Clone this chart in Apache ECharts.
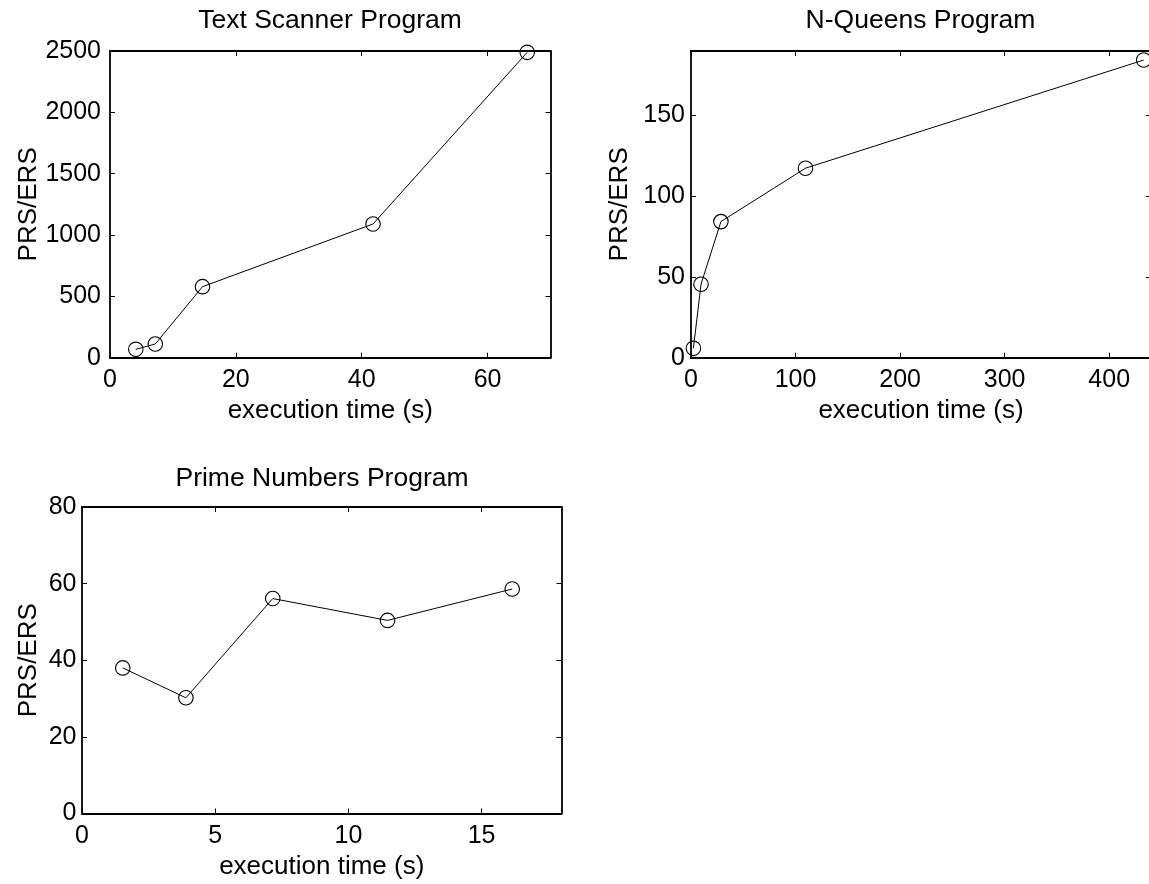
<!DOCTYPE html>
<html>
<head>
<meta charset="utf-8">
<title>PRS/ERS vs execution time</title>
<script src="https://cdn.jsdelivr.net/npm/echarts@6/dist/echarts.min.js"></script>
<style>
  html, body { margin: 0; padding: 0; background: #fff; }
  #chart { width: 1149px; height: 884px; }
</style>
</head>
<body>
<div id="chart"></div>
<script>
// data
var textTime = [4.1, 7.2, 14.7, 41.8, 66.3]
var textRatio = [68, 112, 579, 1090, 2489]
var queensTime = [2.3, 9.6, 28.6, 109.5, 433]
var queensRatio = [5.8, 45.5, 84.3, 117.4, 184.4]
var primeTime = [1.53, 3.9, 7.16, 11.47, 16.15]
var primeRatio = [38.0, 30.2, 56.1, 50.4, 58.6]

var titles = ['Text Scanner Program', 'N-Queens Program', 'Prime Numbers Program']
var xName = 'execution time (s)'
var yName = 'PRS/ERS'

var font = "'Liberation Sans', Arial, Helvetica, sans-serif"

function pairs(xs, ys) {
  return xs.map(function (x, i) { return [x, ys[i]] })
}

// axis settings for the 3 panels
var panels = [
  { grid: { left: 110, top: 51, width: 440.5, height: 306.7 }, xMax: 70, xStep: 20, yMax: 2500, yStep: 500, yTop: true, yGap: 68, yMargin: 9, title: [330, 7], data: pairs(textTime, textRatio) },
  { grid: { left: 691, top: 51, width: 460, height: 306.7 }, xMax: 440, xStep: 100, yMax: 190, yStep: 50, yTop: false, yGap: 58, yMargin: 6, title: [920.5, 7], data: pairs(queensTime, queensRatio) },
  { grid: { left: 82, top: 507, width: 479.5, height: 306.5 }, xMax: 18, xStep: 5, yMax: 80, yStep: 20, yTop: true, yGap: 40, yMargin: 5.5, title: [322, 465.5], data: pairs(primeTime, primeRatio) }
]

var option = {
  animation: false,
  backgroundColor: '#fff',
  textStyle: { fontFamily: font },
  title: [],
  grid: [],
  xAxis: [],
  yAxis: [],
  series: []
}

panels.forEach(function (p, i) {
  option.title.push({
    text: titles[i],
    left: p.title[0],
    top: p.title[1],
    textAlign: 'center',
    padding: 0,
    textStyle: { fontFamily: font, fontSize: 26.5, fontWeight: 'normal', color: '#000' }
  })
  option.grid.push(Object.assign({ containLabel: false, outerBoundsMode: 'none' }, p.grid))

  var line = { show: true, onZero: false, lineStyle: { color: '#000', width: 1.8 } }
  var tick = { show: true, inside: true, length: 5, lineStyle: { color: '#000', width: 1 } }
  var plain = function (v) { return String(v) }

  // bottom / left axes with labels
  option.xAxis.push({
    type: 'value', gridIndex: i, min: 0, max: p.xMax, interval: p.xStep,
    name: xName, nameLocation: 'middle', nameGap: 40,
    nameTextStyle: { fontFamily: font, fontSize: 26, color: '#000' },
    axisLine: line, axisTick: tick, splitLine: { show: false },
    axisLabel: { fontFamily: font, fontSize: 25, color: '#000', margin: 10, showMaxLabel: false, formatter: plain }
  })
  option.yAxis.push({
    type: 'value', gridIndex: i, min: 0, max: p.yMax, interval: p.yStep,
    name: yName, nameLocation: 'middle', nameGap: p.yGap, nameRotate: 90,
    nameTextStyle: { fontFamily: font, fontSize: 26, color: '#000' },
    axisLine: line, axisTick: tick, splitLine: { show: false },
    axisLabel: { fontFamily: font, fontSize: 25, color: '#000', margin: p.yMargin, showMaxLabel: p.yTop, formatter: plain }
  })
  // top / right axes only for the box and the inner ticks
  option.xAxis.push({
    type: 'value', gridIndex: i, position: 'top', min: 0, max: p.xMax, interval: p.xStep,
    axisLine: line, axisTick: tick, axisLabel: { show: false }, splitLine: { show: false }
  })
  option.yAxis.push({
    type: 'value', gridIndex: i, position: 'right', min: 0, max: p.yMax, interval: p.yStep,
    axisLine: line, axisTick: tick, axisLabel: { show: false }, splitLine: { show: false }
  })

  option.series.push({
    type: 'line',
    xAxisIndex: i * 2,
    yAxisIndex: i * 2,
    data: p.data,
    symbol: 'circle',
    symbolSize: 14.5,
    color: '#000',
    lineStyle: { color: '#000', width: 1 },
    itemStyle: { color: 'rgba(0,0,0,0)', borderColor: '#000', borderWidth: 1.1 },
    silent: true
  })
})

var myChart = echarts.init(document.getElementById('chart'))
myChart.setOption(option)
</script>
</body>
</html>
